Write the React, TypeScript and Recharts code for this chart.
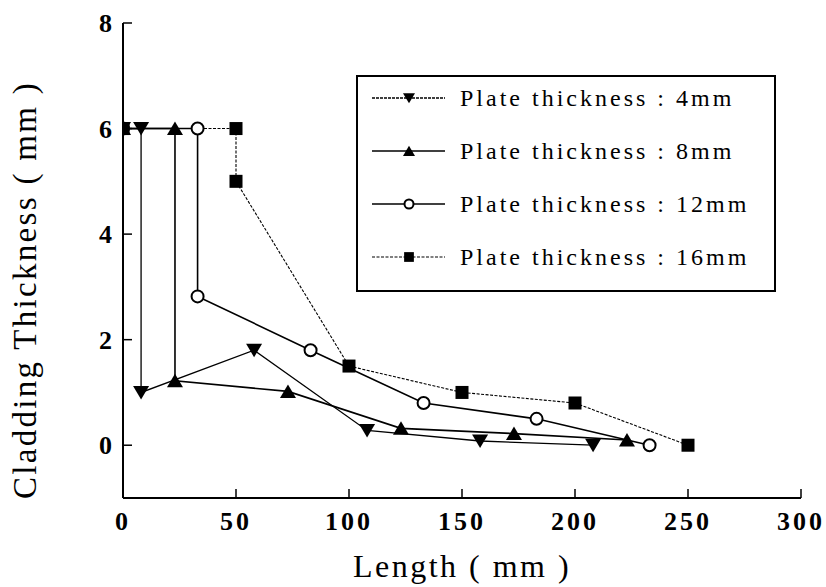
import React from 'react';
import { LineChart, Line, XAxis, YAxis, Legend } from 'recharts';

const SERIF = 'Liberation Serif, Times New Roman, Times, serif';

// lengths (mm) and cladding thickness (mm) for each plate thickness
const len4 = [0, 8, 8, 58, 108, 158, 208];
const clad4 = [6, 6, 1.0, 1.8, 0.28, 0.08, 0];
const len8 = [0, 23, 23, 73, 123, 173, 223];
const clad8 = [6, 6, 1.22, 1.02, 0.32, 0.22, 0.1];
const len12 = [0, 33, 33, 83, 133, 183, 233];
const clad12 = [6, 6, 2.82, 1.8, 0.8, 0.5, 0];
const len16 = [0, 50, 50, 100, 150, 200, 250];
const clad16 = [6, 6, 5.0, 1.5, 1.0, 0.8, 0];

const xMajor = [0, 50, 100, 150, 200, 250, 300];
const xMinor = [25, 75, 125, 175, 225, 275];
const yMajor = [0, 2, 4, 6, 8];
const yMinor = [1, 3, 5, 7];

type Shape = 'down' | 'up' | 'circle' | 'square';

const toPoints = (xs: number[], ys: number[]) => xs.map((x, i) => ({ x, y: ys[i] }));

const series = [
  { id: 's4', name: 'Plate thickness : 4mm', shape: 'down' as Shape, data: toPoints(len4, clad4), width: 1.3, dash: undefined, legendDash: '3 1' },
  { id: 's8', name: 'Plate thickness : 8mm', shape: 'up' as Shape, data: toPoints(len8, clad8), width: 1.6, dash: undefined, legendDash: undefined },
  { id: 's12', name: 'Plate thickness : 12mm', shape: 'circle' as Shape, data: toPoints(len12, clad12), width: 1.6, dash: undefined, legendDash: undefined },
  { id: 's16', name: 'Plate thickness : 16mm', shape: 'square' as Shape, data: toPoints(len16, clad16), width: 1.1, dash: '3 1.5', legendDash: '3 1.5' },
];

function Marker({ shape, cx, cy, scale = 1 }: { shape: Shape; cx: number; cy: number; scale?: number }) {
  const s = scale;
  if (shape === 'down') {
    return <polygon points={`${cx - 8 * s},${cy - 6.5 * s} ${cx + 8 * s},${cy - 6.5 * s} ${cx},${cy + 7 * s}`} fill="#000" />;
  }
  if (shape === 'up') {
    return <polygon points={`${cx - 8 * s},${cy + 6.5 * s} ${cx + 8 * s},${cy + 6.5 * s} ${cx},${cy - 7 * s}`} fill="#000" />;
  }
  if (shape === 'circle') {
    return <circle cx={cx} cy={cy} r={6 * s} fill="#fff" stroke="#000" strokeWidth={2} />;
  }
  return <rect x={cx - 6.5 * s} y={cy - 6.5 * s} width={13 * s} height={13 * s} fill="#000" />;
}

function renderLegend() {
  return (
    <div style={{ width: 416, height: 213, border: '2px solid #000', background: '#fff' }}>
      <svg width={416} height={213} style={{ display: 'block' }}>
        {series.map((s, i) => {
          const cy = 21 + i * 53;
          return (
            <g key={s.id}>
              <line x1={14} x2={87} y1={cy} y2={cy} stroke="#000" strokeWidth={s.width} strokeDasharray={s.legendDash} />
              <Marker shape={s.shape} cx={51} cy={cy} scale={0.75} />
              <text x={102} y={cy + 8} style={{ fontFamily: SERIF, fontSize: 24, letterSpacing: 3 }} fill="#000">
                {s.name}
              </text>
            </g>
          );
        })}
      </svg>
    </div>
  );
}

const tickFont = { style: { fontFamily: SERIF, fontSize: 26, fontWeight: 700, letterSpacing: 3 }, fill: '#000' };
const axisLine = { stroke: '#000', strokeWidth: 2 };
const tickLine = { stroke: '#000', strokeWidth: 1.5 };

export default function App() {
  return (
    <div style={{ position: 'absolute', left: 0, top: 0, background: '#fff' }}>
      <LineChart width={826} height={587} margin={{ top: 23, right: 25, bottom: 0, left: 0 }}>
        {/* minor ticks first so they sit on the plot edge */}
        <XAxis xAxisId="minor" type="number" dataKey="x" domain={[0, 300]} allowDataOverflow ticks={xMinor} tick={false} tickSize={-5} tickLine={tickLine} axisLine={false} height={0} />
        <XAxis
          xAxisId="main"
          type="number"
          dataKey="x"
          domain={[0, 300]}
          allowDataOverflow
          ticks={xMajor}
          tickSize={-9}
          tickMargin={23}
          tick={tickFont}
          tickLine={tickLine}
          axisLine={axisLine}
          height={89}
          label={{
            content: () => (
              <text x={462} y={577} textAnchor="middle" style={{ fontFamily: SERIF, fontSize: 32, letterSpacing: 2.5 }} fill="#000">
                Length ( mm )
              </text>
            ),
          }}
        />
        <XAxis xAxisId="topMinor" orientation="top" type="number" dataKey="x" domain={[0, 300]} allowDataOverflow ticks={xMinor} tick={false} tickSize={-5} tickLine={tickLine} axisLine={false} height={0} />
        <XAxis xAxisId="top" orientation="top" type="number" dataKey="x" domain={[0, 300]} allowDataOverflow ticks={xMajor} tick={false} tickSize={-9} tickLine={tickLine} axisLine={axisLine} height={0} />
        <YAxis yAxisId="minor" type="number" domain={[-1, 8]} allowDataOverflow ticks={yMinor} tick={false} tickSize={-5} tickLine={tickLine} axisLine={false} width={0} />
        <YAxis
          yAxisId="main"
          type="number"
          dataKey="y"
          domain={[-1, 8]}
          allowDataOverflow
          ticks={yMajor}
          tickSize={-9}
          tickMargin={20}
          tick={{ ...tickFont, style: { ...tickFont.style, letterSpacing: 0 } }}
          tickLine={tickLine}
          axisLine={axisLine}
          width={123}
          label={{
            content: () => (
              <text x={36} y={290} transform="rotate(-90, 36, 290)" textAnchor="middle" style={{ fontFamily: SERIF, fontSize: 33, letterSpacing: 2.3 }} fill="#000">
                Cladding Thickness ( mm )
              </text>
            ),
          }}
        />
        <YAxis yAxisId="rightMinor" orientation="right" type="number" domain={[-1, 8]} allowDataOverflow ticks={yMinor} tick={false} tickSize={-5} tickLine={tickLine} axisLine={false} width={0} />
        <YAxis yAxisId="right" orientation="right" type="number" domain={[-1, 8]} allowDataOverflow ticks={yMajor} tick={false} tickSize={-9} tickLine={tickLine} axisLine={axisLine} width={0} />
        <Legend
          layout="vertical"
          align="center"
          verticalAlign="middle"
          wrapperStyle={{ left: 356, top: 75, width: 420, height: 217 }}
          content={() => renderLegend()}
        />
        {series.map((s) => (
          <Line
            key={s.id}
            xAxisId="main"
            yAxisId="main"
            data={s.data}
            dataKey="y"
            name={s.name}
            type="linear"
            stroke="#000"
            strokeWidth={s.width}
            strokeDasharray={s.dash}
            isAnimationActive={false}
            dot={(p: { cx?: number; cy?: number; index?: number }) => (
              <Marker key={`${s.id}-${p.index}`} shape={s.shape} cx={p.cx ?? 0} cy={p.cy ?? 0} />
            )}
            activeDot={false}
          />
        ))}
      </LineChart>
    </div>
  );
}
